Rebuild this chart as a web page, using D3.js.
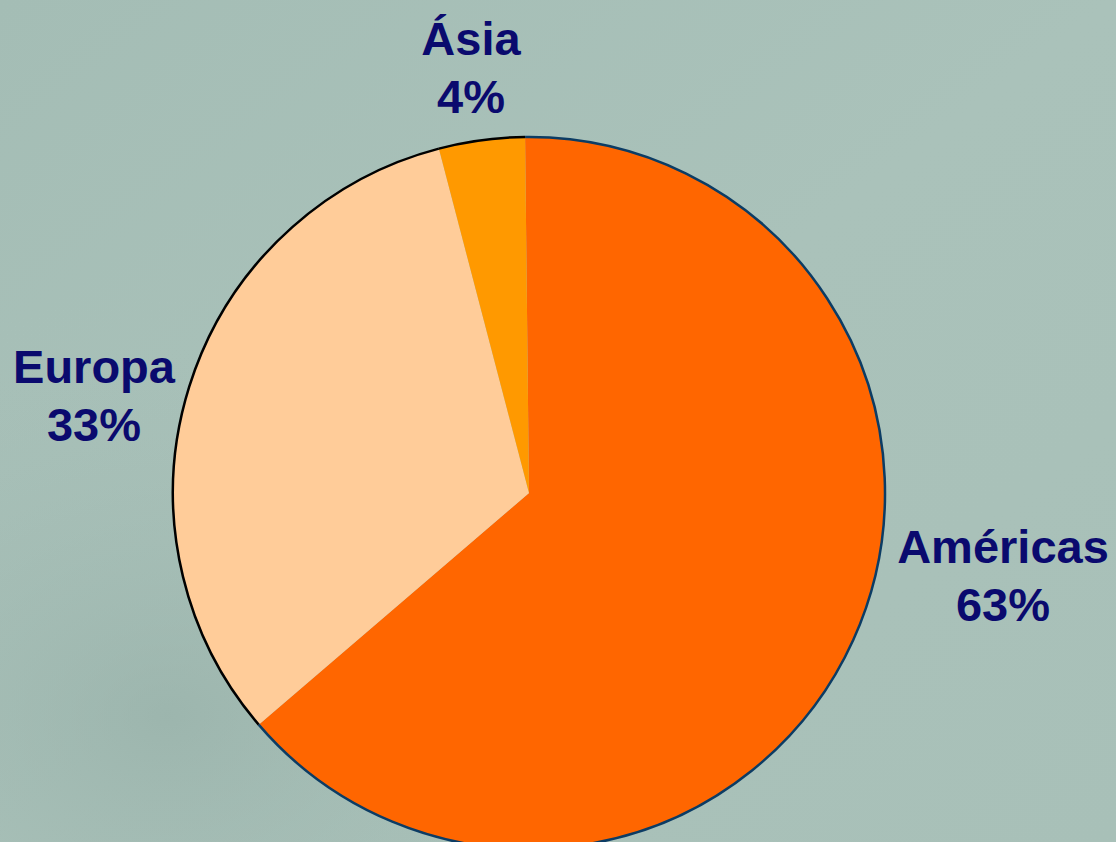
<!DOCTYPE html>
<html lang="pt">
<head>
<meta charset="UTF-8" />
<script src="https://d3js.org/d3.v7.min.js"></script>
<style>
  body { margin: 0; background: #aac2ba; }
  svg { display: block; }
</style>
</head>
<body>
<svg width="1116" height="842"></svg>
<script>
  const regions = ["Américas", "Europa", "Ásia"];
  const shares = [63.9, 32.2, 3.9];
  const pctLabels = ["63%", "33%", "4%"];
  const fills = ["#ff6600", "#ffcc99", "#ff9900"];
  const rims = ["#0c3c64", "#000000", "#000000"];

  const svg = d3.select("svg");
  const W = 1116, H = 842;
  const cx = 529, cy = 493, r = 356;
  const rot = -0.011; // slight counter-clockwise start

  // background with some soft texture-like shading
  const defs = svg.append("defs");
  const g1 = defs.append("radialGradient").attr("id", "shadeA")
    .attr("cx", 0.15).attr("cy", 0.85).attr("r", 0.5);
  g1.append("stop").attr("offset", 0).attr("stop-color", "#8fa9a1").attr("stop-opacity", 0.5);
  g1.append("stop").attr("offset", 1).attr("stop-color", "#aac2ba").attr("stop-opacity", 0);
  const g2 = defs.append("linearGradient").attr("id", "shadeB")
    .attr("x1", 0).attr("y1", 0).attr("x2", 1).attr("y2", 1);
  g2.append("stop").attr("offset", 0).attr("stop-color", "#a4bdb5");
  g2.append("stop").attr("offset", 0.5).attr("stop-color", "#aac2ba");
  g2.append("stop").attr("offset", 1).attr("stop-color", "#a8c0b8");

  svg.append("rect").attr("width", W).attr("height", H).attr("fill", "url(#shadeB)");
  svg.append("rect").attr("width", W).attr("height", H).attr("fill", "url(#shadeA)");

  const pie = d3.pie().sort(null).value(d => d)
    .startAngle(rot).endAngle(2 * Math.PI + rot)(shares);
  const arc = d3.arc().innerRadius(0).outerRadius(r);

  const chart = svg.append("g").attr("transform", `translate(${cx},${cy})`);

  chart.selectAll("path.slice")
    .data(pie)
    .join("path")
    .attr("class", "slice")
    .attr("d", arc)
    .attr("fill", (d, i) => fills[i]);

  // outer rim, coloured per slice
  chart.selectAll("path.rim")
    .data(pie)
    .join("path")
    .attr("class", "rim")
    .attr("d", d => {
      const p = d3.path();
      p.arc(0, 0, r, d.startAngle - Math.PI / 2, d.endAngle - Math.PI / 2);
      return p.toString();
    })
    .attr("fill", "none")
    .attr("stroke", (d, i) => rims[i])
    .attr("stroke-width", 2.5);

  // labels
  const labelPos = [[1003, 563], [94, 383], [471, 55]];
  const lbl = svg.selectAll("text.lbl")
    .data(regions)
    .join("text")
    .attr("class", "lbl")
    .attr("text-anchor", "middle")
    .attr("font-family", "Liberation Sans, Arial, sans-serif")
    .attr("font-weight", "bold")
    .attr("font-size", 47)
    .attr("fill", "#0a0a6e");
  lbl.append("tspan")
    .attr("x", (d, i) => labelPos[i][0])
    .attr("y", (d, i) => labelPos[i][1])
    .text(d => d);
  lbl.append("tspan")
    .attr("x", (d, i) => labelPos[i][0])
    .attr("y", (d, i) => labelPos[i][1] + 58)
    .text((d, i) => pctLabels[i]);
</script>
</body>
</html>
